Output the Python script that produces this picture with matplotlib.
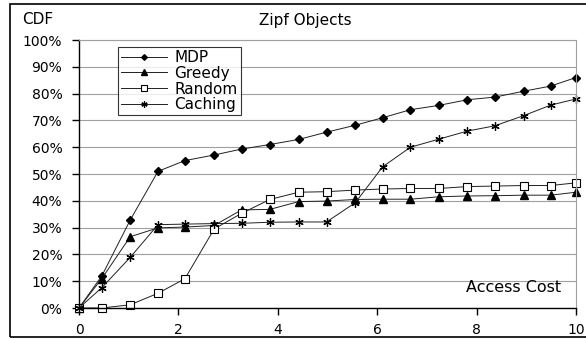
import matplotlib
matplotlib.use('Agg')
import matplotlib.pyplot as plt
from matplotlib.patches import Rectangle
from matplotlib.ticker import FuncFormatter

plt.rcParams['font.family'] = ['DejaVu Sans']

cost = [0, 0.46, 1.03, 1.59, 2.13, 2.72, 3.27, 3.84, 4.42, 4.98,
        5.56, 6.11, 6.67, 7.24, 7.81, 8.37, 8.95, 9.49, 10]
mdp = [0, 12, 32.8, 51, 55, 57.1, 59.3, 61, 62.9, 65.6,
       68.2, 71, 74, 75.6, 77.7, 78.7, 80.9, 82.8, 86]
greedy = [0, 11, 26.6, 29.9, 30.2, 30.8, 36.6, 36.8, 39.7, 39.9,
          40.5, 40.6, 40.6, 41.5, 41.8, 41.9, 42.1, 42.1, 43.2]
random_ = [0, 0, 1.2, 5.5, 10.9, 29.5, 35.3, 40.5, 43.2, 43.4,
           44, 44.4, 44.6, 44.6, 45.3, 45.5, 45.7, 45.7, 46.7]
caching = [0, 7.6, 18.9, 31.1, 31.3, 31.5, 31.6, 32, 32.1, 32.1,
           39.3, 52.7, 60, 63, 66, 68, 71.8, 75.7, 78]

fig = plt.figure(figsize=(5.86, 3.39), dpi=100)
ax = fig.add_axes([79 / 586, 1 - 308 / 339, (576 - 79) / 586, (308 - 40) / 339])

line_kw = dict(color='#202020', lw=0.7, clip_on=False)
ax.plot(cost, mdp, marker='D', ms=3.8, mfc='black', mec='black', label='MDP', **line_kw)
ax.plot(cost, greedy, marker='^', ms=5.5, mfc='black', mec='black', label='Greedy', **line_kw)
ax.plot(cost, random_, marker='s', ms=5.2, mfc='white', mec='black', mew=0.8, label='Random', **line_kw)
ax.plot(cost, caching, marker=(6, 2, 0), ms=6, mec='black', mew=0.9, label='Caching', **line_kw)

ax.set_xlim(0, 10)
ax.set_ylim(0, 100)
ax.set_xticks([0, 2, 4, 6, 8, 10])
ax.set_yticks(range(0, 101, 10))
ax.yaxis.set_major_formatter(FuncFormatter(lambda v, p: f'{int(v)}%'))
ax.yaxis.grid(True, color='#a0a0a0', lw=0.8)
ax.set_axisbelow(True)

ax.spines['top'].set_color('#a0a0a0')
ax.spines['right'].set_color('#a0a0a0')
ax.spines['left'].set_linewidth(1.0)
ax.spines['bottom'].set_linewidth(1.0)
ax.tick_params(axis='both', direction='out', length=5, width=1, labelsize=10)
ax.tick_params(axis='y', pad=7)
ax.tick_params(axis='x', pad=6)

ax.text(0.97, 0.05, 'Access Cost', transform=ax.transAxes, ha='right', va='bottom', fontsize=11.5)
fig.text(38 / 586, 1 - 20 / 339, 'CDF', ha='center', va='center', fontsize=11)
fig.text(305 / 586, 1 - 20 / 339, 'Zipf Objects', ha='center', va='center', fontsize=11)

leg = ax.legend(loc='upper left', bbox_to_anchor=((118 - 79) / 497, (308 - 47) / 268), frameon=True,
                fancybox=False, edgecolor='black', fontsize=11, handlelength=3.0, handletextpad=0.5,
                labelspacing=0.05, borderpad=0.2, borderaxespad=0, markerscale=0.75)
leg.get_frame().set_linewidth(0.8)

fig.patches.append(Rectangle((10 / 586, 2 / 339), 1.0, 333 / 339, transform=fig.transFigure,
                             fill=False, edgecolor='black', lw=1.2))

fig.savefig('out.png', dpi=100)
